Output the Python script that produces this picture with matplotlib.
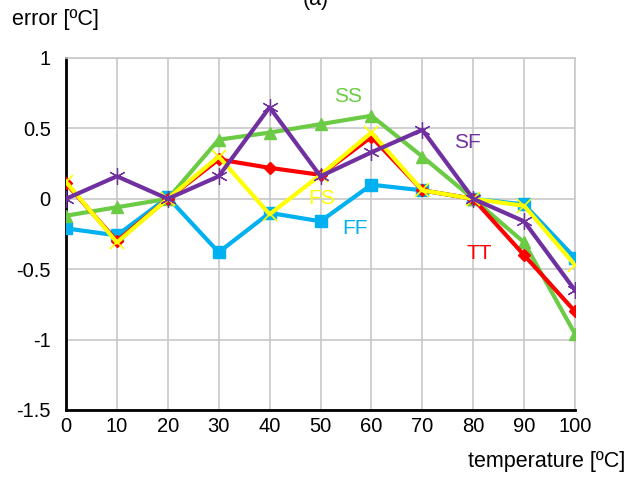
import matplotlib
matplotlib.use("Agg")
import matplotlib.pyplot as plt

plt.rcParams['font.family'] = ['Liberation Sans', 'DejaVu Sans']
plt.rcParams['axes.unicode_minus'] = False

temps = [0, 10, 20, 30, 40, 50, 60, 70, 80, 90, 100]

ff = [-0.21, -0.26, 0.01, -0.38, -0.10, -0.16, 0.10, 0.06, 0.00, -0.04, -0.42]
ss = [-0.12, -0.06, 0.00, 0.42, 0.47, 0.53, 0.59, 0.30, 0.00, -0.31, -0.96]
tt = [0.11, -0.30, 0.00, 0.28, 0.22, 0.17, 0.44, 0.06, 0.00, -0.40, -0.80]
fs = [0.12, -0.31, 0.00, 0.30, -0.11, 0.17, 0.47, 0.06, 0.00, -0.05, -0.47]
sf = [0.00, 0.16, 0.00, 0.16, 0.65, 0.16, 0.33, 0.49, 0.00, -0.16, -0.65]

yticks = [1, 0.5, 0, -0.5, -1, -1.5]
ytick_labels = ['1', '0.5', '0', '-0.5', '-1', '-1.5']

blue = '#00B0F0'
green = '#6CCB45'
red = '#FF0000'
yellow = '#FFFF00'
purple = '#7030A0'

fig = plt.figure(figsize=(6.26, 4.78), dpi=100)
ax = fig.add_axes([66/626, 1-410/478, (575-66)/626, (410-58)/478])

lw = 3
ax.plot(temps, ff, color=blue, lw=lw, marker='s', ms=8.5, zorder=3)
ax.plot(temps, ss, color=green, lw=lw, marker='^', ms=8.5, zorder=3)
ax.plot(temps, tt, color=red, lw=lw, marker='D', ms=6, zorder=4)
ax.plot(temps, fs, color=yellow, lw=lw, marker='x', ms=10, mew=1.2, zorder=5)
ax.plot(temps, sf, color=purple, lw=lw, marker=(6, 2, 0), ms=12, mew=0.9, zorder=6)

# series labels
ax.text(55.5, 0.73, 'SS', color=green, fontsize=15, ha='center', va='center')
ax.text(78.8, 0.40, 'SF', color=purple, fontsize=15, ha='center', va='center')
ax.text(50.3, 0.0, 'FS', color=yellow, fontsize=15, ha='center', va='center')
ax.text(56.8, -0.21, 'FF', color=blue, fontsize=15, ha='center', va='center')
ax.text(81.2, -0.39, 'TT', color=red, fontsize=15, ha='center', va='center')

ax.set_xlim(0, 100)
ax.set_ylim(-1.5, 1)
ax.set_xticks(temps)
ax.set_yticks(yticks)
ax.set_yticklabels(ytick_labels)
ax.tick_params(length=0, labelsize=14.5)
ax.tick_params(axis='x', pad=5)
ax.tick_params(axis='y', pad=11)
ax.grid(True, color='#C8C8C8', lw=1.2)
ax.set_axisbelow(True)

for side in ['top', 'right']:
    ax.spines[side].set_color('#C8C8C8')
    ax.spines[side].set_linewidth(1.2)
for side in ['left', 'bottom']:
    ax.spines[side].set_color('black')
    ax.spines[side].set_linewidth(2)

fig.text(12/626, 1-20/478, 'error [ºC]', fontsize=15.5, ha='left', va='center')
fig.text(625/626, 1-461/478, 'temperature [ºC]', fontsize=15.5, ha='right', va='center')
fig.text(316/626, 1.0, '(a)', fontsize=15.5, ha='center', va='center')

fig.savefig('out.png', dpi=100)
